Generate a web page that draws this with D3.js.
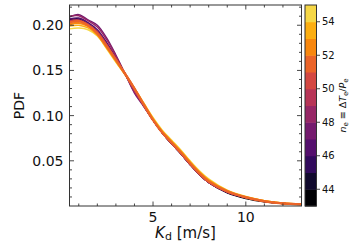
<!DOCTYPE html>
<html><head><meta charset="utf-8">
<script src="https://cdn.jsdelivr.net/npm/d3@7"></script>
<style>body{margin:0;background:#fff}svg{display:block}text{font-family:"DejaVu Sans",sans-serif}</style>
</head><body><svg id="c" width="349" height="244"></svg>
<script>
const xs = [0.5,1,1.5,2,2.5,3,3.5,4,4.5,5,5.5,6,6.5,7,7.5,8,9,10,11,12,13];
const neValues = [43,44,45,46,47,48,49,50,51,52,53,54];
const s43 = [0.205,0.2055,0.200,0.191,0.177,0.162,0.146,0.129,0.112,0.095,0.081,0.069,0.058,0.046,0.035,0.026,0.0145,0.0082,0.0046,0.0026,0.0017];
const s44 = [0.206,0.207,0.201,0.192,0.178,0.163,0.146,0.129,0.112,0.095,0.081,0.069,0.058,0.046,0.035,0.026,0.015,0.009,0.005,0.0028,0.0018];
const s45 = [0.205,0.206,0.201,0.193,0.179,0.163,0.146,0.129,0.111,0.095,0.081,0.069,0.058,0.046,0.035,0.026,0.015,0.009,0.005,0.0028,0.0018];
const s46 = [0.207,0.208,0.203,0.195,0.181,0.164,0.146,0.128,0.111,0.095,0.081,0.069,0.058,0.046,0.035,0.026,0.015,0.0092,0.005,0.0028,0.0018];
const s47 = [0.209,0.2118,0.206,0.200,0.186,0.167,0.146,0.125,0.110,0.095,0.081,0.069,0.058,0.046,0.035,0.026,0.0155,0.0093,0.0051,0.0028,0.0018];
const s48 = [0.210,0.2105,0.205,0.198,0.184,0.166,0.146,0.126,0.111,0.095,0.081,0.069,0.058,0.046,0.035,0.026,0.0155,0.0094,0.0051,0.0028,0.0018];
const s49 = [0.205,0.206,0.201,0.193,0.179,0.163,0.146,0.128,0.111,0.095,0.081,0.069,0.058,0.046,0.035,0.026,0.0155,0.0094,0.0051,0.0028,0.0018];
const s50 = [0.204,0.205,0.200,0.192,0.178,0.162,0.147,0.130,0.112,0.095,0.081,0.070,0.059,0.047,0.036,0.027,0.016,0.0095,0.0052,0.0028,0.0018];
const s51 = [0.203,0.2045,0.200,0.191,0.177,0.162,0.146,0.130,0.112,0.095,0.081,0.070,0.059,0.047,0.036,0.027,0.016,0.0095,0.0052,0.0028,0.0018];
const s52 = [0.201,0.2025,0.199,0.190,0.176,0.161,0.146,0.130,0.113,0.096,0.082,0.071,0.060,0.048,0.037,0.028,0.0165,0.0098,0.0055,0.003,0.0019];
const s53 = [0.199,0.200,0.197,0.189,0.175,0.160,0.145,0.130,0.113,0.097,0.083,0.072,0.061,0.049,0.038,0.029,0.017,0.010,0.0058,0.0032,0.002];
const s54 = [0.196,0.197,0.195,0.188,0.174,0.159,0.145,0.130,0.114,0.098,0.084,0.073,0.062,0.050,0.039,0.030,0.0175,0.0105,0.006,0.0034,0.0021];
const seriesList = [s43,s44,s45,s46,s47,s48,s49,s50,s51,s52,s53,s54];
const drawOrder = [54,53,43,44,45,46,47,48,49,50,52,51];
const xTicks = [5,10];
const yTicks = [0.05,0.10,0.15,0.20];
const cbTicks = [44,46,48,50,52,54];

const svg = d3.select("#c");
const L=69.5, T=5, W=232, H=201;
const x = d3.scaleLinear().domain([0.5,13]).range([L,L+W]);
const y = d3.scaleLinear().domain([0,0.2224]).range([T+H,T]);
const colorOf = n => d3.interpolateInferno(0.9*(n-43)/11);

const line = d3.line().x((d,i)=>x(xs[i])).y(d=>y(d)).curve(d3.curveCatmullRom);
svg.append("clipPath").attr("id","pc").append("rect").attr("x",L).attr("y",T).attr("width",W).attr("height",H);
const lg = svg.append("g").attr("clip-path","url(#pc)");
drawOrder.forEach(n=>{
  const idx = neValues.indexOf(n);
  lg.append("path").attr("d", line(seriesList[idx])).attr("fill","none")
    .attr("stroke", colorOf(n)).attr("stroke-width", (n===51||n===52)?2.2:1.4);
});

const axCol = "#333";
const xMinor = d3.range(1,14,1);
const yMinor = d3.range(0.01,0.2224,0.01);
function tickLine(x1,y1,x2,y2){svg.append("line").attr("x1",x1).attr("y1",y1).attr("x2",x2).attr("y2",y2).attr("stroke",axCol).attr("stroke-width",0.9);}
xMinor.forEach(v=>{const px=x(v); const len = xTicks.includes(v)?4.5:2.5;
  tickLine(px,T+H,px,T+H-len); tickLine(px,T,px,T+len);});
yMinor.forEach(v=>{const py=y(v); const major = yTicks.some(t=>Math.abs(t-v)<1e-6); const len = major?4.5:2.5;
  tickLine(L,py,L+len,py); tickLine(L+W,py,L+W-len,py);});
svg.append("rect").attr("x",L).attr("y",T).attr("width",W).attr("height",H).attr("fill","none").attr("stroke",axCol).attr("stroke-width",1);

xTicks.forEach(v=>svg.append("text").attr("x",x(v)).attr("y",222).attr("text-anchor","middle").attr("font-size",14).attr("fill","#111").text(v));
yTicks.forEach(v=>svg.append("text").attr("x",L-6).attr("y",y(v)+5).attr("text-anchor","end").attr("font-size",14).attr("fill","#111").text(v.toFixed(2)));

svg.append("text").attr("transform",`translate(24,${T+H/2}) rotate(-90)`).attr("text-anchor","middle").attr("font-size",14).attr("fill","#111").text("PDF");
const xl = svg.append("text").attr("x",L+W/2).attr("y",238).attr("text-anchor","middle").attr("font-size",15).attr("fill","#111");
xl.append("tspan").attr("font-style","italic").text("K");
xl.append("tspan").attr("font-size",11).attr("dy",2).text("d");
xl.append("tspan").attr("dy",-2).text(" [m/s]");

const cbX=305, cbW=11.5;
const cy = d3.scaleLinear().domain([43,55]).range([T+H,T]);
d3.range(43,55).forEach(n=>{
  svg.append("rect").attr("x",cbX).attr("y",cy(n+1)).attr("width",cbW).attr("height",cy(n)-cy(n+1)+0.5).attr("fill",colorOf(n));
});
svg.append("rect").attr("x",cbX).attr("y",T).attr("width",cbW).attr("height",H).attr("fill","none").attr("stroke",axCol).attr("stroke-width",1);
cbTicks.forEach(v=>{
  tickLine(cbX+cbW,cy(v),cbX+cbW+3.5,cy(v));
  svg.append("text").attr("x",cbX+cbW+5.5).attr("y",cy(v)+3.5).attr("font-size",10).attr("fill","#111").text(v);
});
const cl = svg.append("text").attr("transform",`translate(346,${T+H/2}) rotate(-90)`).attr("text-anchor","middle").attr("font-size",9.5).attr("fill","#111");
cl.append("tspan").attr("font-style","italic").text("n");
cl.append("tspan").attr("font-size",7).attr("dy",2).text("e");
cl.append("tspan").attr("dy",-2).text(" \u2261 \u0394");
cl.append("tspan").attr("font-style","italic").text("T");
cl.append("tspan").attr("font-size",7).attr("dy",2).text("e");
cl.append("tspan").attr("dy",-2).text("/");
cl.append("tspan").attr("font-style","italic").text("P");
cl.append("tspan").attr("font-size",7).attr("dy",2).text("e");
</script></body></html>
